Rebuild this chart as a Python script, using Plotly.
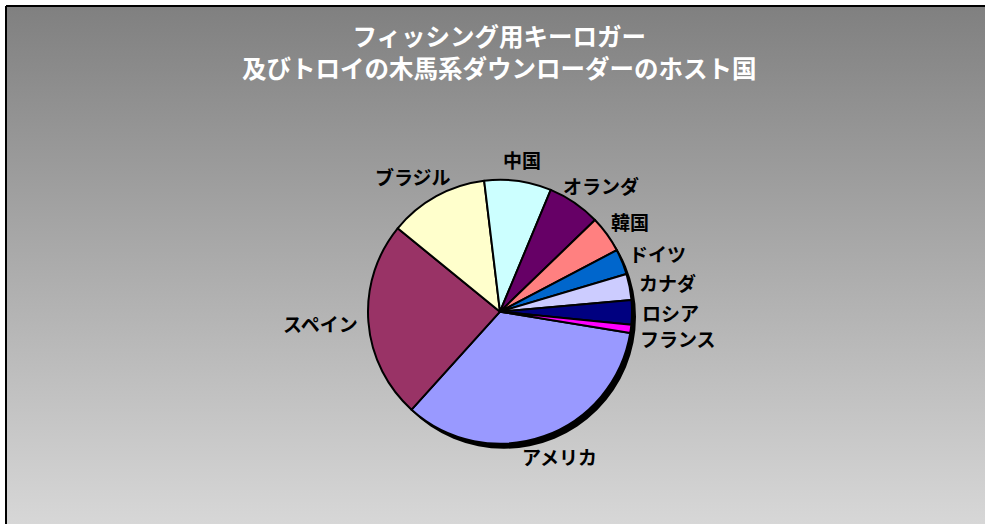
import math
import plotly.graph_objects as go

# ---- data ----
countries = ["アメリカ", "スペイン", "ブラジル", "中国", "オランダ", "韓国", "ドイツ", "カナダ", "ロシア", "フランス"]
shares = [34.1, 24.2, 12.2, 8.2, 6.5, 4.5, 3.1, 3.2, 3.0, 1.0]
colors = ["#9999FF", "#993366", "#FFFFCC", "#CCFFFF", "#660066", "#FF8080", "#0066CC", "#CCCCFF", "#000080", "#FF00FF"]
title_lines = ["フィッシング用キーロガー", "及びトロイの木馬系ダウンローダーのホスト国"]

# ---- layout geometry (pixels) ----
FIG_W, FIG_H = 985, 524
ML, MT = 6, 6
W, H = FIG_W - ML, FIG_H - MT
CX, CY, R = 500.0, 311.7, 132.0
ROT = 99.3
SHADOW_DX, SHADOW_DY = 4, 5
FONT = "Noto Sans CJK JP"
LABEL_SIZE = 19
TITLE_SIZE = 24.5


def px_to_paper(x, y):
    return (x - ML) / W, (FIG_H - y) / H


def domain(cx, cy, r):
    x0, y0 = px_to_paper(cx - r, cy + r)
    x1, y1 = px_to_paper(cx + r, cy - r)
    return dict(x=[x0, x1], y=[y0, y1])


fig = go.Figure()

# gradient background of the chart area
fig.add_trace(go.Scatter(
    x=[0, 1, 1, 0, 0], y=[0, 0, 1, 1, 0], mode="lines", fill="toself",
    line=dict(width=0), hoverinfo="skip", showlegend=False,
    fillgradient=dict(type="vertical", colorscale=[[0, "#d7d7d7"], [1, "#808080"]]),
))

# shadow of the pie
fig.add_trace(go.Pie(
    values=[1], labels=["shadow"], marker=dict(colors=["#000000"], line=dict(width=0)),
    textinfo="none", hoverinfo="skip", showlegend=False, sort=False,
    domain=domain(CX + SHADOW_DX, CY + SHADOW_DY, R),
))

# pie
fig.add_trace(go.Pie(
    labels=countries, values=shares, sort=False, direction="clockwise", rotation=ROT,
    marker=dict(colors=colors, line=dict(color="#000000", width=2)),
    textinfo="none", showlegend=False,
    domain=domain(CX, CY, R),
))

# outside labels placed at each slice's mid-angle
total = sum(shares)
cum = 0.0
GAP = 10
LINE_H = LABEL_SIZE * 1.25
MIN_SEP = 26
labels = []
for name, v in zip(countries, shares):
    a = math.radians(ROT + 360.0 * (cum + v / 2.0) / total)
    cum += v
    sx, sy = math.sin(a), -math.cos(a)
    ax, ay = CX + (R + GAP) * sx, CY + (R + GAP) * sy
    w = len(name) * LABEL_SIZE
    lx, ly = ax + w / 2 * sx, ay + LINE_H / 2 * sy
    labels.append([name, lx, ly])

# push apart labels that would overlap vertically (right-hand side)
right = sorted([l for l in labels if l[1] > CX], key=lambda l: l[2])
for prev, cur in zip(right, right[1:]):
    if cur[2] - prev[2] < MIN_SEP:
        cur[2] = prev[2] + MIN_SEP

annotations = []
for name, lx, ly in labels:
    px, py = px_to_paper(lx, ly)
    annotations.append(dict(
        x=px, y=py, xref="paper", yref="paper", text=name, showarrow=False,
        xanchor="center", yanchor="middle",
        font=dict(family=FONT, size=LABEL_SIZE, color="#000000", weight="bold"),
    ))

# title
tx, ty = px_to_paper(499.5, 16)
annotations.append(dict(
    x=tx, y=ty, xref="paper", yref="paper", text="<br>".join(title_lines),
    showarrow=False, xanchor="center", yanchor="top", align="center",
    font=dict(family=FONT, size=TITLE_SIZE, color="#FFFFFF", weight="bold"),
))

fig.update_layout(
    width=FIG_W, height=FIG_H,
    margin=dict(l=ML, r=0, t=MT, b=0),
    paper_bgcolor="#FFFFFF", plot_bgcolor="rgba(0,0,0,0)",
    xaxis=dict(range=[0, 1], visible=False, fixedrange=True),
    yaxis=dict(range=[0, 1], visible=False, fixedrange=True),
    annotations=annotations,
    shapes=[
        dict(type="line", xref="paper", yref="paper", x0=0, y0=0, x1=0, y1=1,
             line=dict(color="#000000", width=2)),
        dict(type="line", xref="paper", yref="paper", x0=0, y0=1, x1=1, y1=1,
             line=dict(color="#000000", width=2)),
    ],
)

fig.write_html("out.html")
